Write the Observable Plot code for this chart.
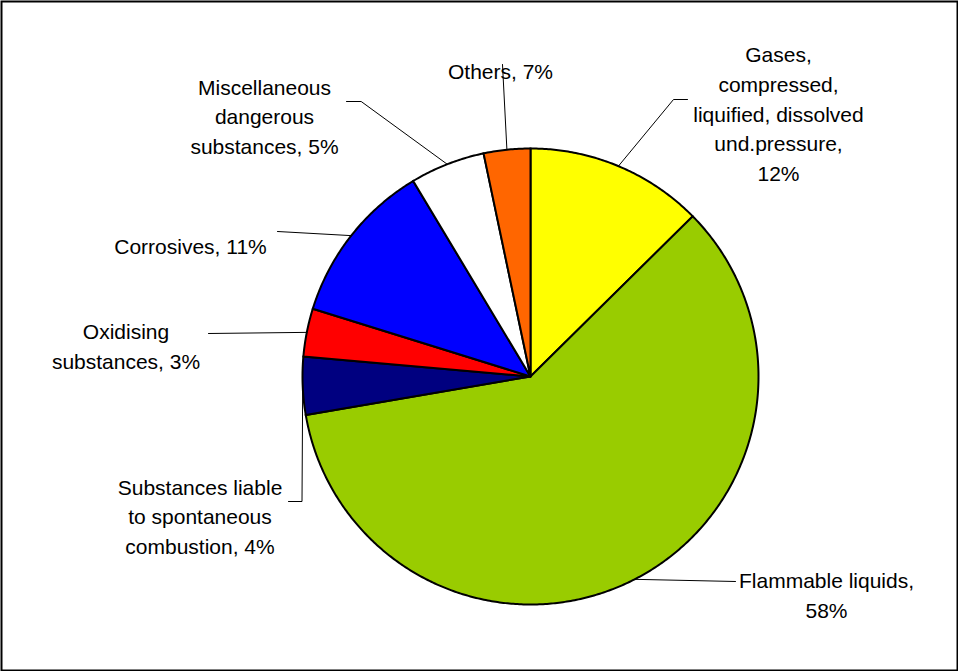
<!DOCTYPE html>
<html>
<head>
<meta charset="utf-8">
<script src="https://cdn.jsdelivr.net/npm/d3@7"></script>
<script src="https://cdn.jsdelivr.net/npm/@observablehq/plot@0.6"></script>
<style>
  html, body { margin: 0; padding: 0; background: #fff; }
  svg { display: block; }
</style>
</head>
<body>
<div id="chart"></div>
<script>
// ---- data ----
const categories = [
  "Gases, compressed, liquified, dissolved und.pressure",
  "Flammable liquids",
  "Substances liable to spontaneous combustion",
  "Oxidising substances",
  "Corrosives",
  "Miscellaneous dangerous substances",
  "Others"
];
// slice shares as drawn in the picture (percent of the full circle)
const sliceShares = [12.6, 59.7, 4.1, 3.4, 11.6, 5.3, 3.3];
// label texts as printed
const labelTexts = [
  "Gases,\ncompressed,\nliquified, dissolved\nund.pressure,\n12%",
  "Flammable liquids,\n58%",
  "Substances liable\nto spontaneous\ncombustion, 4%",
  "Oxidising\nsubstances, 3%",
  "Corrosives, 11%",
  "Miscellaneous\ndangerous\nsubstances, 5%",
  "Others, 7%"
];
const sliceColors = ["#FFFF00", "#99CC00", "#000080", "#FF0000", "#0000FF", "#FFFFFF", "#FF6600"];

// ---- layout (pixels in the 958x671 frame) ----
const W = 958, H = 671, CX = 530, CY = 376, R = 228;
const labelAnchors = [[778, 180], [826, 617], [199.5, 553], [125.5, 368], [190, 253], [264, 153], [500, 78]];
const leaderBends = [
  [[673, 99], [687, 99]],
  [[735, 581]],
  [[301.5, 501], [288, 501]],
  [[208, 333]],
  [[277, 231]],
  [[360.7, 101], [346, 101]],
  [[502, 64]]
];
const toX = px => (px - CX) / R;
const toY = py => (CY - py) / R;

// ---- build slice polygons (unit radius, clockwise from 12 o'clock) ----
const total = d3.sum(sliceShares);
const slicePts = [];
const mids = [];
let acc = 0;
sliceShares.forEach((v, i) => {
  const a0 = acc / total * 2 * Math.PI;
  acc += v;
  const a1 = acc / total * 2 * Math.PI;
  mids.push((a0 + a1) / 2);
  slicePts.push({slice: i, x: 0, y: 0, color: sliceColors[i]});
  const n = Math.max(2, Math.ceil((a1 - a0) / (Math.PI / 360)));
  for (let k = 0; k <= n; ++k) {
    const a = a0 + (a1 - a0) * k / n;
    slicePts.push({slice: i, x: Math.sin(a), y: Math.cos(a), color: sliceColors[i]});
  }
  slicePts.push({slice: i, x: 0, y: 0, color: sliceColors[i]});
});

// leader lines: from rim at slice mid-angle to label
const leaderPts = [];
categories.forEach((c, i) => {
  leaderPts.push({i, x: Math.sin(mids[i]), y: Math.cos(mids[i])});
  leaderBends[i].forEach(([px, py]) => leaderPts.push({i, x: toX(px), y: toY(py)}));
});

const labels = categories.map((c, i) => ({
  text: labelTexts[i], x: toX(labelAnchors[i][0]), y: toY(labelAnchors[i][1])
}));

const chart = Plot.plot({
  width: W,
  height: H,
  margin: 0,
  x: {domain: [toX(0), toX(W)], axis: null},
  y: {domain: [toY(H), toY(0)], axis: null},
  color: {type: "identity"},
  style: {background: "#fff"},
  marks: [
    Plot.line(slicePts, {x: "x", y: "y", z: "slice", fill: "color", stroke: "#000", strokeWidth: 2, strokeLinejoin: "miter", strokeMiterlimit: 4, curve: "linear"}),
    Plot.line(leaderPts, {x: "x", y: "y", z: "i", stroke: "#000", strokeWidth: 1, curve: "linear"}),
    Plot.text(labels, {
      x: "x", y: "y", text: "text",
      fontSize: 21, lineHeight: 1.405, lineAnchor: "bottom", textAnchor: "middle",
      fill: "#000", fontFamily: "'Liberation Sans', Arial, sans-serif"
    }),
    Plot.frame({stroke: "#000", strokeWidth: 2, inset: 1})
  ]
});
document.getElementById("chart").appendChild(chart);
</script>
</body>
</html>
